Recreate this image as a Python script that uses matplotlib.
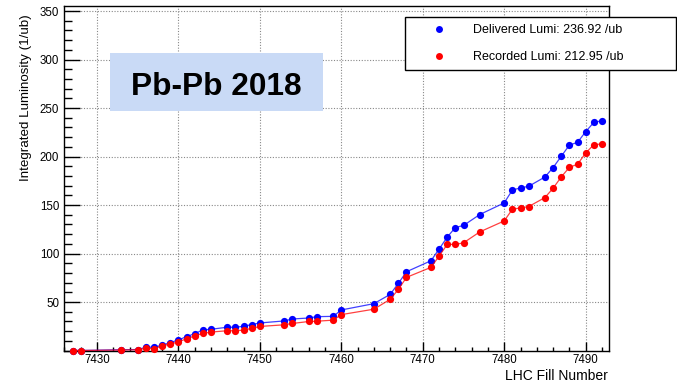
import numpy as np
import matplotlib
matplotlib.use("Agg")
import matplotlib.pyplot as plt
from matplotlib.patches import Rectangle
from matplotlib.lines import Line2D
from matplotlib.ticker import MultipleLocator, FixedLocator

plt.rcParams['font.family'] = ['Liberation Sans', 'DejaVu Sans']

# integrated luminosity per LHC fill (1/ub)
fills = [7427, 7428, 7433, 7435, 7436, 7437, 7438, 7439, 7440, 7441, 7442, 7443, 7444,
         7446, 7447, 7448, 7449, 7450, 7453, 7454, 7456, 7457, 7459, 7460, 7464,
         7466, 7467, 7468, 7471, 7472, 7473, 7474, 7475, 7477, 7480, 7481, 7482, 7483,
         7485, 7486, 7487, 7488, 7489, 7490, 7491, 7492]
delivered = [0, 0, 0.8, 1.0, 3.4, 3.4, 5.4, 8.2, 10.9, 14.3, 17.4, 21.2, 21.9,
             24.0, 24.0, 25.0, 26.7, 28.4, 30.5, 32.5, 33.5, 34.9, 35.2, 41.8, 48.3,
             57.9, 69.2, 81.2, 92.5, 104.5, 116.9, 126.8, 128.9, 140.2, 152.2, 165.5, 167.6, 169.3,
             178.9, 188.6, 200.2, 211.8, 214.6, 225.6, 235.2, 236.92]
recorded = [0, 0, 0.5, 0.8, 2.1, 2.0, 4.7, 6.8, 8.8, 12.2, 15.0, 17.7, 19.0,
            20.4, 20.4, 21.0, 22.8, 24.8, 26.5, 27.9, 29.9, 30.2, 31.3, 37.0, 42.6,
            52.8, 63.0, 75.4, 85.7, 97.3, 109.4, 109.4, 111.0, 122.3, 133.6, 145.7, 147.0, 148.4,
            157.7, 167.3, 178.9, 188.9, 192.0, 203.6, 212.2, 212.95]

W, H = 677, 386
fig = plt.figure(figsize=(W/100, H/100), dpi=100)
ax = fig.add_axes([64/W, 1 - 350.5/H, (609.3 - 64)/W, (350.5 - 5.7)/H])

ax.plot(fills, delivered, color='#0000ff', lw=0.9, alpha=0.75, zorder=3, clip_on=False)
ax.plot(fills, delivered, 'o', color='#0000ff', ms=5.2, mew=0, zorder=4, clip_on=False)
ax.plot(fills, recorded, color='#ff0000', lw=0.9, alpha=0.75, zorder=5, clip_on=False)
ax.plot(fills, recorded, 'o', color='#ff0000', ms=5.2, mew=0, zorder=6, clip_on=False)

ax.set_xlim(7425.95, 7492.9)
ax.set_ylim(0, 355.5)

ax.xaxis.set_major_locator(MultipleLocator(10))
ax.xaxis.set_minor_locator(MultipleLocator(2))
ax.yaxis.set_major_locator(FixedLocator([50, 100, 150, 200, 250, 300, 350]))
ax.yaxis.set_minor_locator(MultipleLocator(10))

ax.tick_params(axis='x', which='major', direction='in', length=6.5, width=1, pad=2.5,
               labelsize=8.3, top=False)
ax.tick_params(axis='x', which='minor', direction='in', length=3.2, width=1, top=False)
ax.tick_params(axis='y', which='major', direction='in', length=11.5, width=1, pad=3.4,
               labelsize=8.3, right=False)
ax.tick_params(axis='y', which='minor', direction='in', length=6, width=1, right=False)

ax.grid(True, which='major', color='#888888', linestyle=(0, (1, 1.5)), linewidth=0.8)
for s in ax.spines.values():
    s.set_linewidth(1)
    s.set_color('black')

fig.text(26/W, 1 - 97.5/H, 'Integrated Luminosity (1/ub)', rotation=90,
         ha='center', va='center', fontsize=9.6)
fig.text(608/W, 1 - 380/H, 'LHC Fill Number', ha='right', va='baseline', fontsize=10)

# title box
fig.add_artist(Rectangle((110/W, 1 - 111/H), 213/W, 58/H, transform=fig.transFigure,
                         facecolor='#c9daf6', edgecolor='none', zorder=10))
fig.text(216.5/W, 1 - 95/H, 'Pb-Pb 2018', ha='center', va='baseline',
         fontsize=22.8, fontweight='bold', zorder=11)

handles = [Line2D([], [], marker='o', ls='none', color='#0000ff', ms=5, mew=0),
           Line2D([], [], marker='o', ls='none', color='#ff0000', ms=5, mew=0)]
labels = ['Delivered Lumi: %.2f /ub' % delivered[-1], 'Recorded Lumi: %.2f /ub' % recorded[-1]]
leg = fig.legend(handles, labels, loc='upper left', mode='expand',
                 bbox_to_anchor=(405/W, 1 - 71/H, 271/W, 54/H), borderaxespad=0,
                 fontsize=9, fancybox=False, framealpha=1, edgecolor='black',
                 borderpad=0.55, labelspacing=1.25, handlelength=4.28, handletextpad=0.64)
leg.get_frame().set_linewidth(1)

fig.savefig('out.png', dpi=100)
